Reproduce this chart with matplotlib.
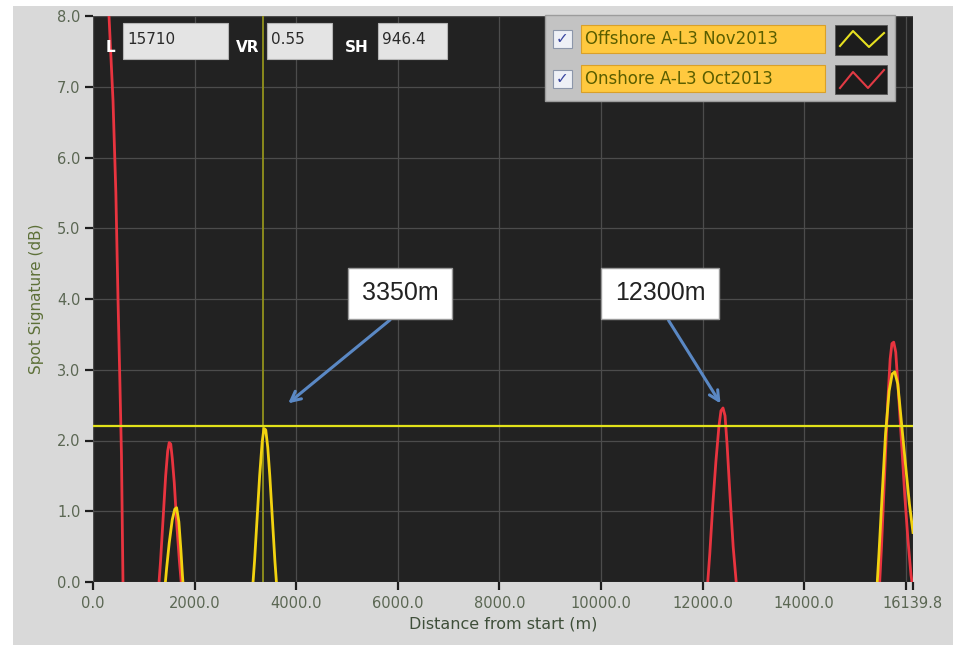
import matplotlib
matplotlib.use("Agg")
import matplotlib.pyplot as plt
from matplotlib.patches import Rectangle
from matplotlib.lines import Line2D

# ---- trace data: distance (m) and spot signature (dB) ----
onshore_x = [
    [0, 200, 315, 394, 450, 492, 530, 560, 590, 620],
    [1280, 1330, 1380, 1430, 1470, 1500, 1530, 1560, 1600, 1650, 1700, 1760],
    [12080, 12140, 12200, 12260, 12320, 12360, 12400, 12440, 12480, 12540, 12600, 12660, 12700],
    [15470, 15520, 15580, 15640, 15690, 15725, 15760, 15800, 15860, 15920, 15980, 16040, 16100, 16139.8],
]
onshore_y = [
    [14.0, 10.0, 8.0, 6.8, 5.5, 4.0, 2.8, 1.8, 0.0, -0.5],
    [-0.2, 0.3, 0.9, 1.5, 1.85, 1.97, 1.95, 1.75, 1.4, 0.8, 0.3, -0.2],
    [-0.2, 0.4, 1.1, 1.7, 2.2, 2.42, 2.46, 2.35, 1.95, 1.2, 0.5, 0.0, -0.2],
    [-0.2, 0.5, 1.5, 2.5, 3.15, 3.37, 3.39, 3.25, 2.6, 1.9, 1.2, 0.6, 0.1, -0.1],
]
offshore_x = [
    [1400, 1450, 1500, 1560, 1610, 1645, 1690, 1730, 1760, 1790],
    [3130, 3180, 3230, 3280, 3330, 3365, 3400, 3440, 3480, 3530, 3580, 3630],
    [15420, 15470, 15530, 15600, 15670, 15730, 15780, 15840, 15920, 16000, 16070, 16139.8],
]
offshore_y = [
    [-0.2, 0.2, 0.55, 0.88, 1.03, 1.05, 0.85, 0.45, 0.1, -0.2],
    [-0.2, 0.3, 0.9, 1.5, 1.98, 2.17, 2.15, 1.9, 1.5, 0.9, 0.3, -0.2],
    [-0.2, 0.4, 1.2, 2.1, 2.7, 2.94, 2.97, 2.8, 2.2, 1.6, 1.1, 0.7],
]

series_names = ["Offshore A-L3 Nov2013", "Onshore A-L3 Oct2013"]
cursor_x = 3350
cursor_y = 2.2
x_max = 16139.8
x_ticks = [0, 2000, 4000, 6000, 8000, 10000, 12000, 14000, 16000, 16139.8]
x_tick_labels = ["0.0", "2000.0", "4000.0", "6000.0", "8000.0", "10000.0",
                 "12000.0", "14000.0", "", "16139.8"]
y_ticks = [0, 1, 2, 3, 4, 5, 6, 7, 8]
y_tick_labels = ["0.0", "1.0", "2.0", "3.0", "4.0", "5.0", "6.0", "7.0", "8.0"]
readouts = [("L", "15710"), ("VR", "0.55"), ("SH", "946.4")]
callouts = [("3350m", 3800, 2.5, 5890, 3.73, 6050, 4.08),
            ("12300m", 12380, 2.49, 11300, 3.73, 11160, 4.08)]

W, H = 957, 647
fig = plt.figure(figsize=(W / 100, H / 100), dpi=100, facecolor="white")


def fx(px):
    return px / W


def fy(py):
    return 1 - py / H


def frect(x0, y0, x1, y1, **kw):
    r = Rectangle((fx(x0), fy(y1)), fx(x1) - fx(x0), fy(y0) - fy(y1),
                  transform=fig.transFigure, **kw)
    fig.patches.append(r)
    return r


# grey panel behind the graph
frect(13, 6, 953, 645, facecolor="#d9d9d9", edgecolor="none", zorder=-5)

ax = fig.add_axes([fx(93), fy(582), fx(913) - fx(93), fy(16) - fy(582)])
ax.set_facecolor("#222222")
ax.set_xlim(0, x_max)
ax.set_ylim(0, 8)
ax.set_xticks(x_ticks)
ax.set_xticklabels(x_tick_labels)
ax.set_yticks(y_ticks)
ax.set_yticklabels(y_tick_labels)
ax.grid(True, color="#4c4c4c", linewidth=0.9)
ax.set_axisbelow(True)
for s in ax.spines.values():
    s.set_visible(False)
ax.tick_params(axis="both", colors="#1e1e1e", width=1.6, length=6,
               labelcolor="#5b6753", labelsize=10.5)
ax.tick_params(axis="x", pad=4)
ax.tick_params(axis="y", pad=3)

ax.set_xlabel("Distance from start (m)", fontsize=11.5, color="#3f4f3a", labelpad=4)
ax.set_ylabel("Spot Signature (dB)", fontsize=11, color="#5d7038", labelpad=9)

# cursors
ax.axvline(cursor_x, color="#8a8a1c", linewidth=1.4, zorder=2)
ax.axhline(cursor_y, color="#e2e21a", linewidth=1.6, zorder=4)

# traces
for xs, ys in zip(onshore_x, onshore_y):
    ax.plot(xs, ys, color="#e8343f", linewidth=2.0, zorder=3)
for xs, ys in zip(offshore_x, offshore_y):
    ax.plot(xs, ys, color="#f2d210", linewidth=2.0, zorder=3)

# callouts
for label, tx, ty, ax0, ay0, bx, by in callouts:
    ax.annotate("", xy=(tx, ty), xytext=(ax0, ay0),
                arrowprops=dict(arrowstyle="->,head_length=0.7,head_width=0.35",
                                color="#5a88c4", lw=2.2), zorder=6)
    ax.text(bx, by, label, fontsize=18, family="Liberation Sans", color="#222222",
            ha="center", va="center", zorder=7,
            bbox=dict(boxstyle="square,pad=0.55", facecolor="white",
                      edgecolor="#9a9a9a", linewidth=1.0))

# readout boxes along the top of the graph
readout_layout = [(110, 123, 228), (248, 267, 332), (357, 378, 447)]
for (name, val), (lx, b0, b1) in zip(readouts, readout_layout):
    fig.text(fx(lx), fy(48), name, fontsize=11, fontweight="bold", color="white",
             ha="center", va="center", zorder=8)
    frect(b0, 23, b1, 59, facecolor="#e4e4e4", edgecolor="#b5b5b5",
          linewidth=0.8, zorder=8)
    fig.text(fx(b0 + 4), fy(40), val, fontsize=11, color="#2a2a2a",
             ha="left", va="center", zorder=9)

# plot legend
frect(545, 15, 895, 101, facecolor="#c3c3c3", edgecolor="#9c9c9c",
      linewidth=1.0, zorder=8)
legend_colors = ["#e6e020", "#e23a44"]
rows = [(25, 53), (65, 92)]
zigzags = [[(840, 46), (853, 31), (869, 47), (884, 33)],
           [(840, 88), (853, 72), (868, 88), (884, 70)]]
for name, col, (r0, r1), zz in zip(series_names, legend_colors, rows, zigzags):
    cy = (r0 + r1) / 2
    frect(553, cy - 9, 572, cy + 9, facecolor="#eef0f6", edgecolor="#8c96aa",
          linewidth=0.8, zorder=9)
    fig.text(fx(562.5), fy(cy), "\u2713", fontsize=11, color="#3a46a0",
             ha="center", va="center", zorder=10, family="DejaVu Sans")
    frect(581, r0, 825, r1, facecolor="#ffc93f", edgecolor="#d9a02a",
          linewidth=0.8, zorder=9)
    fig.text(fx(585), fy(cy), name, fontsize=12, color="#5a5e00",
             ha="left", va="center", zorder=10)
    frect(835, r0, 887, r1 + 2, facecolor="#1c1c1c", edgecolor="#555555",
          linewidth=0.6, zorder=9)
    fig.lines.append(Line2D([fx(p[0]) for p in zz], [fy(p[1]) for p in zz],
                            transform=fig.transFigure, color=col,
                            linewidth=1.5, zorder=10))

fig.savefig("out.png", dpi=100, facecolor=fig.get_facecolor())
